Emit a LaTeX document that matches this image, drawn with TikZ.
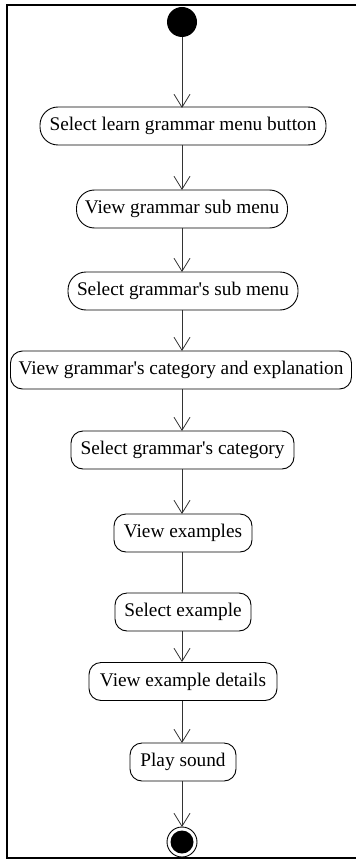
\documentclass[tikz,border=0pt]{standalone}
\usepackage{fontspec}
\setmainfont{Liberation Serif}
\usetikzlibrary{arrows.meta}
\begin{document}
\begin{tikzpicture}[x=1pt,y=-1pt,
  act/.style={draw=black, line width=0.9pt, fill=white, minimum height=38pt, inner xsep=2pt, inner ysep=0pt, font=\fontsize{19.3}{22}\selectfont, text=black},
  round1/.style={act, rounded corners=18pt},
  round2/.style={act, rounded corners=12pt},
  flow/.style={draw=black!80, line width=0.8pt, -{Straight Barb[length=13pt,width=16pt,line width=0.8pt]}},
  plain/.style={draw=black!80, line width=0.8pt},
  frameline/.style={draw=black, line width=2pt}
]
\useasboundingbox (0,0) rectangle (356,861);
\draw[frameline] (356,5) -- (7,5) -- (7,858) -- (356,858);

\node[circle, fill=black, minimum size=30pt, inner sep=0pt] (start) at (182,22) {};

\node[round1, minimum width=286pt] (n1) at (183,126) {Select learn grammar menu button};
\node[round1, minimum width=211pt] (n2) at (182,209) {View grammar sub menu};
\node[round1, minimum width=230pt] (n3) at (183,291) {Select grammar\textquotesingle s sub menu};
\node[round2, minimum width=341pt] (n4) at (181,370) {View grammar\textquotesingle s category and explanation};
\node[round2, minimum width=223pt] (n5) at (182.5,450) {Select grammar\textquotesingle s category};
\node[round2, minimum width=138pt] (n6) at (183,533) {View examples};
\node[round2, minimum width=136pt] (n7) at (183,612) {Select example};
\node[round2, minimum width=188pt] (n8) at (183,681.5) {View example details};
\node[round2, minimum width=106pt] (n9) at (183,762) {Play sound};

\node[circle, draw=black, line width=0.9pt, fill=white, minimum size=30pt, inner sep=0pt] (endo) at (182,842) {};
\node[circle, fill=black, minimum size=23pt, inner sep=0pt] (endi) at (182,842) {};

\draw[flow] (start) -- (182,108);
\draw[flow] (182,145) -- (182,190);
\draw[flow] (182,228) -- (182,272);
\draw[flow] (182,310) -- (182,351);
\draw[flow] (182,389) -- (182,431);
\draw[flow] (182,469) -- (182,514);
\draw[plain] (182,552) -- (182,593);
\draw[flow] (182,631) -- (182,662);
\draw[flow] (182,701) -- (182,743);
\draw[flow] (182,781) -- (182,827);
\end{tikzpicture}
\end{document}
